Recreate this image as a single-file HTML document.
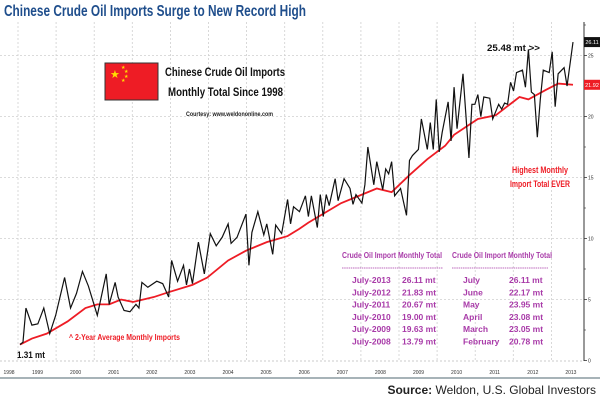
<!DOCTYPE html>
<html><head><meta charset="utf-8"><style>
html,body{margin:0;padding:0;background:#fff;}
svg{display:block;font-family:"Liberation Sans",sans-serif;}
</style></head><body>
<svg id="chart" width="600" height="405" viewBox="0 0 600 405">
<text x="4" y="16" font-size="16" font-weight="bold" fill="#1f4e8c" textLength="302" lengthAdjust="spacingAndGlyphs">Chinese Crude Oil Imports Surge to New Record High</text>
<g id="grid"></g>
<g id="axes"></g>
<g id="series"></g>
<g>
<rect x="105" y="63" width="53" height="37" fill="#ee1c25" stroke="#333" stroke-width="1"/>
<text x="110" y="78" font-size="11" fill="#ffde00">★</text>
<text x="121" y="69" font-size="5" fill="#ffde00">★</text>
<text x="124" y="73" font-size="5" fill="#ffde00">★</text>
<text x="124" y="78" font-size="5" fill="#ffde00">★</text>
<text x="121" y="82" font-size="5" fill="#ffde00">★</text>
</g>
<text x="165" y="76" font-size="12" font-weight="bold" fill="#111" textLength="120" lengthAdjust="spacingAndGlyphs">Chinese Crude Oil Imports</text>
<text x="168" y="96" font-size="12" font-weight="bold" fill="#111" textLength="115" lengthAdjust="spacingAndGlyphs">Monthly Total Since 1998</text>
<text x="186" y="116" font-size="6" font-weight="bold" fill="#222" textLength="87" lengthAdjust="spacingAndGlyphs">Courtesy: www.weldononline.com</text>
<text x="487" y="51" font-size="9" font-weight="bold" fill="#111" textLength="53" lengthAdjust="spacingAndGlyphs">25.48 mt &gt;&gt;</text>
<text x="512" y="173" font-size="9" font-weight="bold" fill="#ee1c25" textLength="56" lengthAdjust="spacingAndGlyphs">Highest Monthly</text>
<text x="510" y="187" font-size="9" font-weight="bold" fill="#ee1c25" textLength="60" lengthAdjust="spacingAndGlyphs">Import Total EVER</text>
<text x="69" y="340" font-size="8.5" font-weight="bold" fill="#ee1c25" textLength="111" lengthAdjust="spacingAndGlyphs">^ 2-Year Average Monthly Imports</text>
<text x="17" y="358" font-size="9" font-weight="bold" fill="#111" textLength="28" lengthAdjust="spacingAndGlyphs">1.31 mt</text>
<g id="tables" font-size="8.5" font-weight="bold" fill="#a83aa8"></g>
<line x1="0" y1="378" x2="600" y2="378" stroke="#8a9aa0" stroke-width="1.5"/>
<text x="596" y="394" font-size="12" text-anchor="end" fill="#222"><tspan font-weight="bold">Source:</tspan> Weldon, U.S. Global Investors</text>
</svg>
<script>
const months=[0,1,2,4,6,8,10,12,15,17,19,21,23,26,29,30,32,33,35,37,39,40,41,43,46,48,50,51,53,55,56,57,58,60,62,64,66,68,70,71,73,76,77,78,80,82,83,85,86,88,90,91,92,94,96,97,98,100,101,102,103,104,106,107,109,111,112,113,115,116,117,119,120,122,123,124,125,126,128,130,131,132,134,135,137,138,139,140,141,142,144,145,146,147,149,151,152,153,154,155,156,158,159,161,162,163,164,165,166,167,169,170,171,172,173,174,175,176,178,179,180,181,183,184,186];
const imports=[1.31,1.5,4.3,2.9,3.0,4.3,2.2,3.7,6.8,4.3,5.5,7.3,6.1,3.7,7.1,4.6,6.4,5.2,4.1,4.0,4.6,4.3,6.4,6.0,6.5,6.3,5.2,8.2,6.5,7.8,6.2,7.5,6.3,9.7,7.1,10.4,9.4,10.1,11.2,9.6,10.1,12.0,7.8,10.5,12.2,10.3,11.2,8.7,11.1,10.4,13.2,11.2,12.6,12.2,13.5,11.8,13.5,10.9,13.6,11.8,13.6,12.7,14.9,13.1,14.9,14.1,12.8,13.6,12.9,14.4,17.5,14.4,16.3,14.0,15.7,15.3,16.3,13.5,14.1,11.9,16.4,16.8,17.3,19.8,17.3,19.5,17.3,21.4,17.1,18.7,21.2,18.0,22.4,19.0,23.5,16.6,21.0,21.0,21.8,20.0,21.6,21.5,19.8,21.0,20.6,21.1,21.0,22.8,22.1,23.6,23.8,22.4,25.5,22.0,21.8,18.3,21.4,23.8,23.6,25.3,20.8,23.5,24.0,22.5,26.1];
const avgMonths=[0,4,9,16,22,26,30,34,38,45,50,58,63,70,76,83,90,94,97,108,120,125,131,137,143,146,154,160,168,171,177,181,186];
const avgValues=[1.31,1.8,2.2,3.2,4.3,4.6,4.6,5.0,4.8,5.2,5.6,6.2,6.8,8.2,9.0,9.7,10.2,10.8,11.3,12.9,14.1,13.8,15.2,16.5,17.6,18.5,19.8,20.1,21.6,21.4,22.2,22.7,22.6];
const yTicks=[0,5,10,15,20,25];
const yearLabels=["1998","1999","2000","2001","2002","2003","2004","2005","2006","2007","2008","2009","2010","2011","2012","2013"];
const lastValue="26.11";
const lastAvg="21.92";
const tableLeftLabels=["July-2013","July-2012","July-2011","July-2010","July-2009","July-2008"];
const tableLeftValues=["26.11 mt","21.83 mt","20.67 mt","19.00 mt","19.63 mt","13.79 mt"];
const tableRightLabels=["July","June","May","April","March","February"];
const tableRightValues=["26.11 mt","22.17 mt","23.95 mt","23.08 mt","23.05 mt","20.78 mt"];

const NS="http://www.w3.org/2000/svg";
const X0=20,X1=573,Y0=360.5,PXU=12.2;
function xs(m){return X0+(X1-X0)*m/186;}
function ys(v){return Y0-PXU*v;}
function mk(tag,attrs,parent,text){const e=document.createElementNS(NS,tag);for(const k in attrs)e.setAttribute(k,attrs[k]);if(text!==undefined)e.textContent=text;parent.appendChild(e);return e;}
const grid=document.getElementById('grid'),axes=document.getElementById('axes'),series=document.getElementById('series'),tables=document.getElementById('tables');
for(let i=0;i<15;i++){const x=18+38.1*i;const l=mk('line',{x1:x,y1:22,x2:x,y2:361,stroke:'#cfcfcf','stroke-dasharray':'2,2','stroke-width':0.8},grid);

}
yTicks.forEach(v=>{const y=ys(v);
if(v>0){const g=mk('line',{x1:0,y1:y,x2:584,y2:y,stroke:'#cfcfcf','stroke-dasharray':'2,2','stroke-width':0.8},grid);

}
const t=mk('text',{x:588,y:y+2,'font-size':5,fill:'#333'},axes,String(v));


mk('line',{x1:584,y1:y,x2:587,y2:y,stroke:'#333','stroke-width':0.8},axes);
mk('line',{x1:584,y1:ys(v+2.5),x2:586,y2:ys(v+2.5),stroke:'#333','stroke-width':0.6},axes);});
const ra=mk('line',{x1:584,y1:22,x2:584,y2:361,stroke:'#333','stroke-width':1},axes);


const xa=mk('line',{x1:0,y1:361,x2:584,y2:361,stroke:'#bbb','stroke-width':0.8,'stroke-dasharray':'2,2'},axes);


yearLabels.forEach((yr,i)=>{const x=i===0?9:37.5+38.1*(i-1);
const t=mk('text',{x:x,y:374,'font-size':5,'text-anchor':'middle',fill:'#333'},axes,yr);

});
const avgPath=mk('polyline',{points:avgMonths.map((m,i)=>xs(m)+','+ys(avgValues[i])).join(' '),fill:'none',stroke:'#ee1c25','stroke-width':1.8},series);


const mainPath=mk('polyline',{points:months.map((m,i)=>xs(m)+','+ys(imports[i])).join(' '),fill:'none',stroke:'#111','stroke-width':1.2},series);


const b1=mk('rect',{x:584,y:ys(imports[imports.length-1])-5,width:16,height:10,fill:'#111'},axes);


mk('text',{x:592,y:ys(imports[imports.length-1])+2,'font-size':5.5,'text-anchor':'middle',fill:'#fff'},axes,lastValue);
const b2=mk('rect',{x:584,y:ys(avgValues[avgValues.length-1])-5,width:16,height:10,fill:'#ee1c25'},axes);


mk('text',{x:592,y:ys(avgValues[avgValues.length-1])+2,'font-size':5.5,'text-anchor':'middle',fill:'#fff'},axes,lastAvg);
function table(x0,lx,vx,lineW,labels,values,name){
const h=mk('text',{x:x0,y:258,textLength:100,lengthAdjust:'spacingAndGlyphs'},tables,'Crude Oil Import Monthly Total');


mk('line',{x1:x0,y1:268,x2:x0+lineW,y2:268,stroke:'#a83aa8','stroke-width':0.8,'stroke-dasharray':'1.5,0.7'},tables);
labels.forEach((l,i)=>{const y=283+12.3*i;
const a=mk('text',{x:lx,y:y},tables,l);


const b=mk('text',{x:vx,y:y},tables,values[i]);

});}
table(342,352,402,101,tableLeftLabels,tableLeftValues,'yearly-table');
table(452,463,509,96,tableRightLabels,tableRightValues,'monthly-table');
</script>
</body></html>
